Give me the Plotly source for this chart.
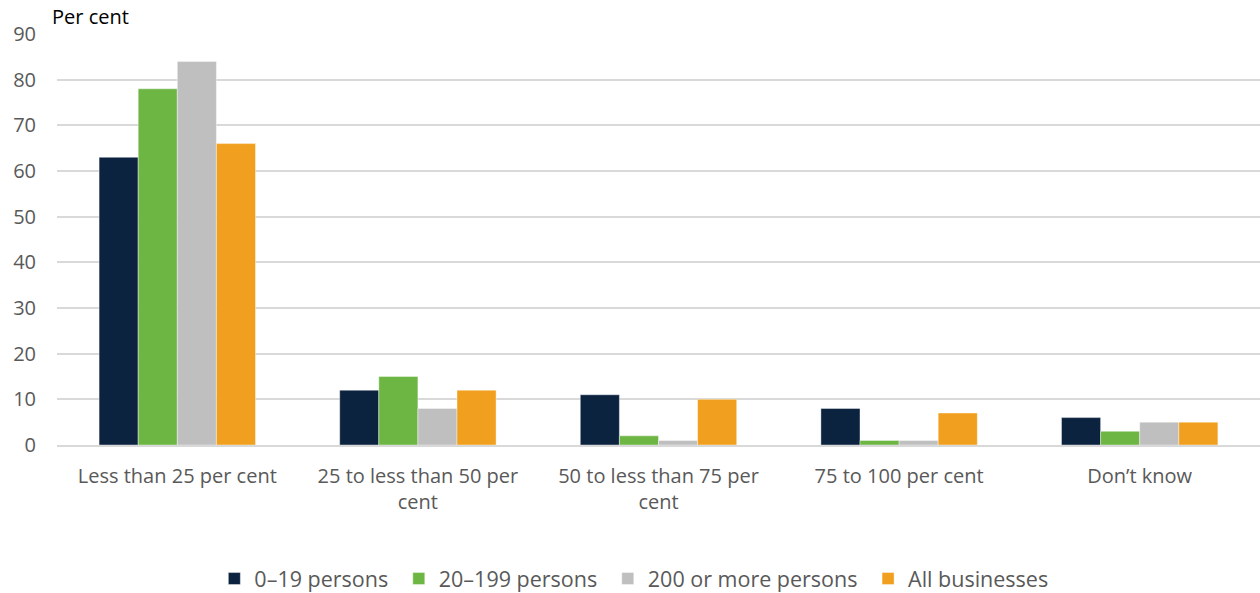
import plotly.graph_objects as go

categories = ["Less than 25 per cent", "25 to less than 50 per<br>cent", "50 to less than 75 per<br>cent", "75 to 100 per cent", "Don’t know"]
series_names = ["0–19 persons", "20–199 persons", "200 or more persons", "All businesses"]
values_0_19 = [63, 12, 11, 8, 6]
values_20_199 = [78, 15, 2, 1, 3]
values_200_plus = [84, 8, 1, 1, 5]
values_all = [66, 12, 10, 7, 5]
colors = ["#0c2340", "#6db644", "#bfbfbf", "#f0a01e"]
y_ticks = [0, 10, 20, 30, 40, 50, 60, 70, 80, 90]

fig = go.Figure()
for name, vals, col in zip(series_names, [values_0_19, values_20_199, values_200_plus, values_all], colors):
    fig.add_trace(go.Bar(name=name + "\u00a0", x=categories, y=vals,
                         marker=dict(color=col, line=dict(color="rgba(255,255,255,0.5)", width=0.8))))

font = "Open Sans"
fig.update_layout(
    barmode="group", bargap=0.35, bargroupgap=0,
    width=1260, height=593,
    margin=dict(l=57, r=0, t=34, b=148, autoexpand=False),
    plot_bgcolor="white", paper_bgcolor="white",
    font=dict(family=font, size=20, color="#595959"),
    legend=dict(orientation="h", x=0.482, xanchor="center", y=-0.325, yanchor="middle",
                font=dict(size=21.5, color="#595959"), itemwidth=30, tracegroupgap=0),
    xaxis=dict(showgrid=False, ticks="", linecolor="#d9d9d9", linewidth=1.5, showline=True,
               tickfont=dict(size=20, color="#595959"), ticklabelstandoff=12),
    yaxis=dict(range=[0, 90], tickvals=y_ticks, showgrid=True, gridcolor="#d9d9d9", gridwidth=1.5,
               zeroline=False, ticks="", tickfont=dict(size=20, color="#595959"), ticklabelstandoff=20),
    annotations=[dict(text="Per cent", xref="paper", yref="paper", x=0, xshift=-7, y=1, yshift=2,
                      xanchor="left", yanchor="bottom", showarrow=False,
                      font=dict(size=20, color="black", family=font))],
)
fig.write_html("out.html")
